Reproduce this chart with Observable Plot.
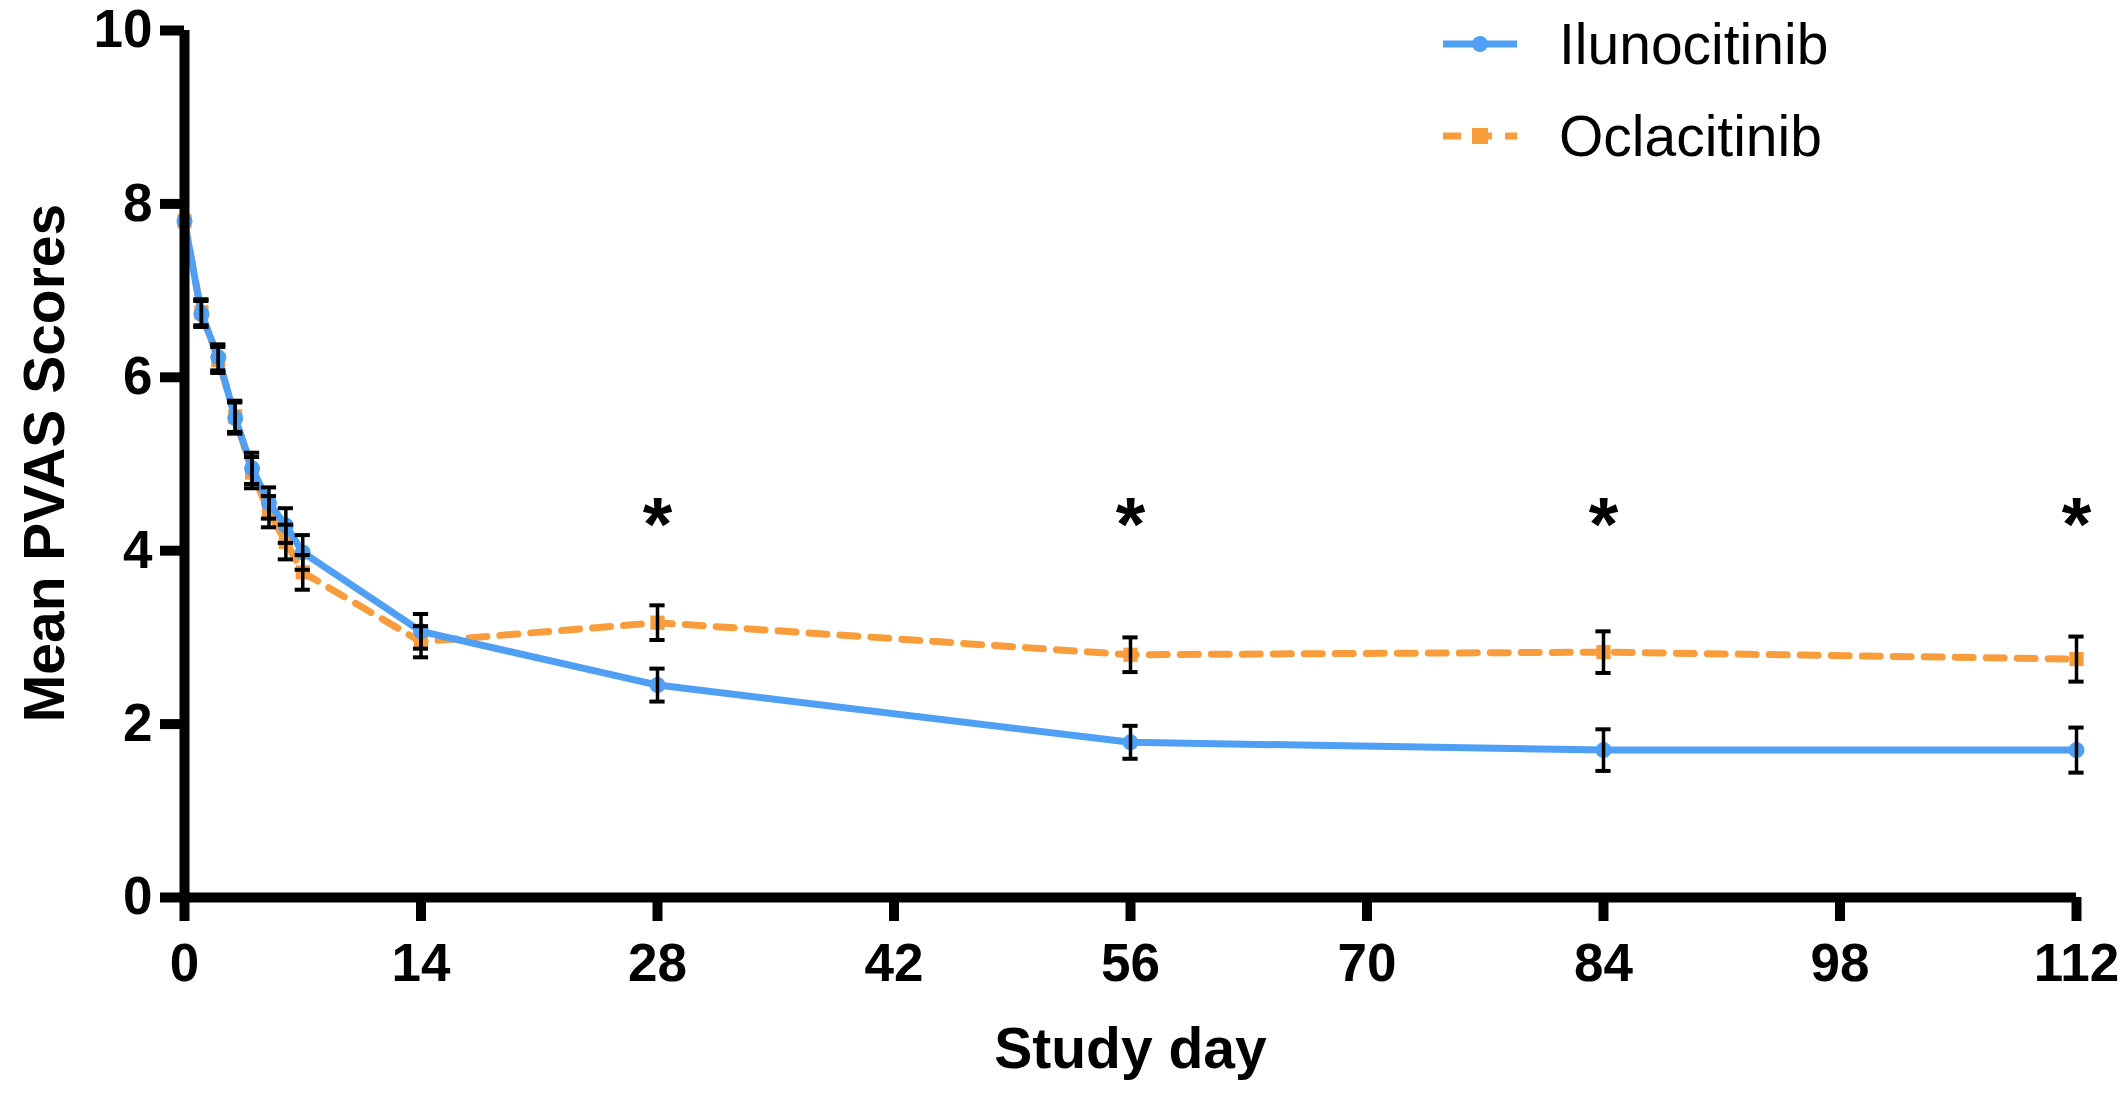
<!DOCTYPE html>
<html><head><meta charset="utf-8">
<script src="https://cdn.jsdelivr.net/npm/d3@7"></script>
<script src="https://cdn.jsdelivr.net/npm/@observablehq/plot@0.6"></script>
<style>body{margin:0;background:#fff;font-family:"Liberation Sans",Arial,sans-serif}#wrap{position:relative;width:2128px;height:1093px}</style>
</head><body><div id="wrap"></div>
<script>
const days = [0,1,2,3,4,5,6,7,14,28,56,84,112];
const ilunoMean = [7.8,6.73,6.23,5.53,4.95,4.55,4.29,3.98,3.07,2.45,1.79,1.70,1.70];
const ilunoErr  = [0,0.15,0.15,0.18,0.18,0.18,0.2,0.2,0.2,0.19,0.19,0.24,0.26];
const oclaMean  = [7.8,6.75,6.2,5.55,4.9,4.45,4.1,3.75,2.95,3.17,2.8,2.83,2.75];
const oclaErr   = [0,0.15,0.15,0.18,0.18,0.18,0.2,0.2,0.18,0.2,0.2,0.24,0.26];
const starDays = [28,56,84,112];
const xTicks = [0,14,28,42,56,70,84,98,112];
const yTicks = [0,2,4,6,8,10];
const BLUE="#4f9ff5", ORANGE="#f99d3c";

const iluno = days.map((d,i)=>({day:d,v:ilunoMean[i],e:ilunoErr[i]}));
const ocla = days.map((d,i)=>({day:d,v:oclaMean[i],e:oclaErr[i]}));
const errs = [...ocla, ...iluno].filter(d=>d.e>0);

const chart = Plot.plot({
  width:2128, height:1093,
  marginLeft:184, marginRight:52, marginTop:30, marginBottom:196,
  style:{fontFamily:"Liberation Sans, Arial, sans-serif", background:"#fff"},
  x:{domain:[0,112]}, y:{domain:[0,10]},
  marks:[
    Plot.line(ocla,{x:"day",y:"v",stroke:ORANGE,strokeWidth:7,strokeDasharray:"18,13"}),
    Plot.dot(ocla,{x:"day",y:"v",symbol:"square",fill:ORANGE,r:8}),
    Plot.line(iluno,{x:"day",y:"v",stroke:BLUE,strokeWidth:7}),
    Plot.dot(iluno,{x:"day",y:"v",fill:BLUE,r:8}),
    Plot.ruleX(errs,{x:"day",y1:d=>d.v-d.e,y2:d=>d.v+d.e,stroke:"#000",strokeWidth:3.5}),
    Plot.ruleY(errs,{y:d=>d.v-d.e,x1:d=>d.day-0.45,x2:d=>d.day+0.45,stroke:"#000",strokeWidth:4}),
    Plot.ruleY(errs,{y:d=>d.v+d.e,x1:d=>d.day-0.45,x2:d=>d.day+0.45,stroke:"#000",strokeWidth:4}),
    Plot.text(starDays,{x:d=>d,y:4.5,text:()=>"*",fontSize:76,fontWeight:"bold",dy:18,fill:"#000"}),
    Plot.axisX(xTicks,{tickSize:24,tickPadding:22,strokeWidth:10,fontSize:53,fontWeight:"bold",fill:"#000",stroke:"#000",label:null,tickFormat:d=>String(d)}),
    Plot.axisY(yTicks,{tickSize:24,tickPadding:8,strokeWidth:10,fontSize:53,fontWeight:"bold",fill:"#000",stroke:"#000",label:null,tickFormat:d=>String(d)}),
    Plot.ruleX([0],{stroke:"#000",strokeWidth:10}),
    Plot.ruleY([0],{stroke:"#000",strokeWidth:10}),
    Plot.text(["Study day"],{frameAnchor:"bottom",dy:170,fontSize:57,fontWeight:"bold",fill:"#000"})
  ]
});
document.getElementById("wrap").appendChild(chart);

const ns="http://www.w3.org/2000/svg";
const yt = document.createElementNS(ns,"svg");
yt.setAttribute("width",90);yt.setAttribute("height",900);
yt.style.cssText="position:absolute;left:0;top:0";
yt.innerHTML=`<text transform="translate(44,463) rotate(-90)" text-anchor="middle" dy="0.35em" font-size="57" font-weight="bold" fill="#000" font-family="Liberation Sans, Arial">Mean PVAS Scores</text>`;
document.getElementById("wrap").appendChild(yt);

const leg = document.createElementNS(ns,"svg");
leg.setAttribute("width",700);leg.setAttribute("height",200);
leg.style.cssText="position:absolute;left:1420px;top:0";
leg.innerHTML=`
<line x1="23" x2="97" y1="44" y2="44" stroke="${BLUE}" stroke-width="7"/>
<circle cx="60" cy="44" r="8" fill="${BLUE}"/>
<text x="139" y="44" dy="0.35em" font-size="57" fill="#000" font-family="Liberation Sans, Arial">Ilunocitinib</text>
<line x1="23" x2="97" y1="136" y2="136" stroke="${ORANGE}" stroke-width="7" stroke-dasharray="18,13"/>
<rect x="52" y="128" width="16" height="16" fill="${ORANGE}"/>
<text x="139" y="136" dy="0.35em" font-size="57" fill="#000" font-family="Liberation Sans, Arial">Oclacitinib</text>`;
document.getElementById("wrap").appendChild(leg);
</script></body></html>
